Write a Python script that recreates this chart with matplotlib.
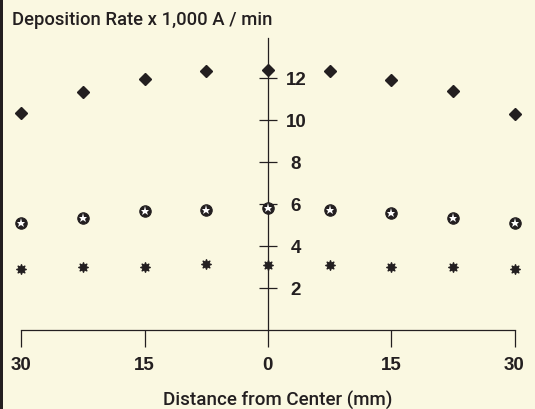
import matplotlib
matplotlib.use("Agg")
import matplotlib.pyplot as plt
from matplotlib.patches import Rectangle

# Data
x_pos = [-30, -22.5, -15, -7.5, 0, 7.5, 15, 22.5, 30]
xtick_vals = [-30, -15, 0, 15, 30]
xtick_labels = ["30", "15", "0", "15", "30"]
ytick_vals = [2, 4, 6, 8, 10, 12]
ytick_labels = ["2", "4", "6", "8", "10", "12"]
diamond_rate = [10.29, 11.33, 11.95, 12.29, 12.36, 12.29, 11.89, 11.36, 10.24]
star_circle_rate = [5.05, 5.33, 5.62, 5.68, 5.78, 5.68, 5.57, 5.33, 5.05]
asterisk_rate = [2.90, 3.00, 3.00, 3.10, 3.08, 3.06, 3.00, 3.00, 2.90]

BG = "#FAF8E1"
INK = "#231F20"
NARROW = ["Roboto", "Liberation Sans", "DejaVu Sans"]
WIDE = ["Liberation Sans", "DejaVu Sans"]

fig = plt.figure(figsize=(5.35, 4.10), dpi=100, facecolor=BG)
fig.patches.append(Rectangle((0, 0), 3.3 / 535, 1, transform=fig.transFigure,
                             facecolor=INK, edgecolor="none", zorder=10))

ax = fig.add_axes([21.2 / 535, (410 - 330.5) / 410, 493.3 / 535, 13.9 * 21 / 410])
ax.set_facecolor(BG)
ax.patch.set_alpha(0)
ax.set_xlim(-30, 30)
ax.set_ylim(0, 13.9)

for s in ["left", "top"]:
    ax.spines[s].set_visible(False)
ax.spines["bottom"].set_position(("data", 0))
ax.spines["bottom"].set_bounds(-30, 30)
ax.spines["right"].set_position(("data", 0))
for s in ["bottom", "right"]:
    ax.spines[s].set_color(INK)
    ax.spines[s].set_linewidth(0.9)

ax.set_xticks(xtick_vals)
ax.set_xticklabels(xtick_labels, family=WIDE, fontweight="bold", fontsize=13.5, color=INK)
ax.tick_params(axis="x", direction="out", length=12.2, width=0.9, color=INK, pad=7.2)

ax.yaxis.set_ticks_position("right")
ax.set_yticks(ytick_vals)
ax.set_yticklabels(ytick_labels, family=WIDE, fontweight="bold", fontsize=13.5, color=INK)
for lab in ax.get_yticklabels():
    lab.set_horizontalalignment("center")
ax.tick_params(axis="y", direction="inout", length=13, width=0.9, color=INK, pad=13.8)

ax.plot(x_pos, diamond_rate, linestyle="none", marker="D", markersize=5.9,
        color=INK, clip_on=False, zorder=5)
ax.plot(x_pos, star_circle_rate, linestyle="none", marker="o", markersize=8.2,
        markeredgewidth=0.8, color=INK, clip_on=False, zorder=5)
ax.plot(x_pos, star_circle_rate, linestyle="none", marker="*", markersize=6.5,
        color="white", markeredgewidth=0, clip_on=False, zorder=6)
ax.plot(x_pos, asterisk_rate, linestyle="none", marker=(8, 1, 0), markersize=7.4,
        markeredgewidth=0.8, color=INK, clip_on=False, zorder=5)

fig.text(11.7 / 535, 1 - 25 / 410, "Deposition Rate x 1,000 A / min", family=NARROW,
         fontweight="medium", fontsize=13.3, color=INK, ha="left", va="baseline")
fig.text(278 / 535, 1 - 406 / 410, "Distance from Center (mm)", family=NARROW,
         fontweight="medium", fontsize=13.5, color=INK, ha="center", va="baseline")

fig.savefig("out.png", dpi=100, facecolor=BG)
